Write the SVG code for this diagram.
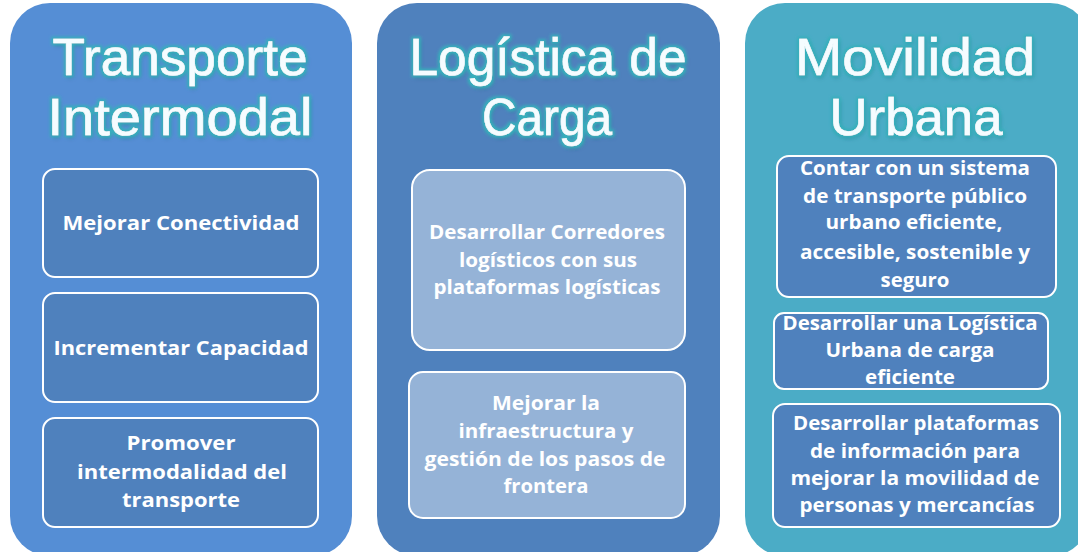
<svg xmlns="http://www.w3.org/2000/svg" width="1078" height="552" viewBox="0 0 1078 552">
<defs>
<filter id="glow" x="-10%" y="-30%" width="120%" height="160%">
<feOffset in="SourceAlpha" dx="1" dy="2" result="off"/>
<feGaussianBlur in="off" stdDeviation="2" result="offb"/>
<feFlood flood-color="#1F3A5C" flood-opacity="0.55"/>
<feComposite in2="offb" operator="in" result="shadow"/>
<feMorphology in="SourceAlpha" operator="dilate" radius="1.8" result="dil"/>
<feGaussianBlur in="dil" stdDeviation="1.4" result="dilb"/>
<feFlood flood-color="#36B0BC" flood-opacity="1"/>
<feComposite in2="dilb" operator="in" result="glowc"/>
<feMerge><feMergeNode in="shadow"/><feMergeNode in="glowc"/><feMergeNode in="SourceGraphic"/></feMerge>
</filter>
</defs>
<style>
.title{font-family:"Liberation Sans","Open Sans",sans-serif;font-size:52px;fill:#F5FCFF;stroke:#F5FCFF;stroke-width:0.6;text-anchor:middle;filter:url(#glow)}
.item{font-family:"Open Sans","Liberation Sans",sans-serif;font-size:19px;font-weight:bold;fill:#FFFFFF;text-anchor:middle}
.box{stroke:#FFFFFF;stroke-width:2}
.b1{fill:#4F81BD}
.b2{fill:#95B3D7}
</style>
<rect width="1078" height="552" fill="#FFFFFF"/>

<g id="panel-transporte">
<rect x="10" y="3" width="342" height="553" rx="40" fill="#558ED5"/>
<text class="title" x="180" y="75" textLength="255" lengthAdjust="spacingAndGlyphs">Transporte</text>
<text class="title" x="180" y="135" textLength="265" lengthAdjust="spacingAndGlyphs">Intermodal</text>
</g>
<g id="node-mejorar-conectividad">
<rect class="box b1" x="43" y="169" width="275" height="108" rx="12"/>
<text class="item" x="181" y="230" textLength="237" lengthAdjust="spacingAndGlyphs">Mejorar Conectividad</text>
</g>
<g id="node-incrementar-capacidad">
<rect class="box b1" x="43" y="293" width="275" height="109" rx="12"/>
<text class="item" x="181" y="355" textLength="255" lengthAdjust="spacingAndGlyphs">Incrementar Capacidad</text>
</g>
<g id="node-promover-intermodalidad">
<rect class="box b1" x="43" y="418" width="275" height="109" rx="12"/>
<text class="item" x="181" y="450" textLength="109" lengthAdjust="spacingAndGlyphs">Promover</text>
<text class="item" x="182" y="479" textLength="210" lengthAdjust="spacingAndGlyphs">intermodalidad del</text>
<text class="item" x="181" y="507" textLength="118" lengthAdjust="spacingAndGlyphs">transporte</text>
</g>

<g id="panel-logistica">
<rect x="377" y="3" width="343" height="553" rx="40" fill="#4F81BD"/>
<text class="title" x="548" y="75" textLength="277" lengthAdjust="spacingAndGlyphs">Logística de</text>
<text class="title" x="547" y="135" textLength="130" lengthAdjust="spacingAndGlyphs">Carga</text>
</g>
<g id="node-corredores">
<rect class="box b2" x="412" y="170" width="273" height="180" rx="18"/>
<text class="item" x="547" y="239" textLength="236" lengthAdjust="spacingAndGlyphs">Desarrollar Corredores</text>
<text class="item" x="548" y="267" textLength="178" lengthAdjust="spacingAndGlyphs">logísticos con sus</text>
<text class="item" x="547" y="294" textLength="227" lengthAdjust="spacingAndGlyphs">plataformas logísticas</text>
</g>
<g id="node-pasos-frontera">
<rect class="box b2" x="409" y="372" width="276" height="146" rx="14"/>
<text class="item" x="546" y="410" textLength="108" lengthAdjust="spacingAndGlyphs">Mejorar la</text>
<text class="item" x="546" y="438" textLength="175" lengthAdjust="spacingAndGlyphs">infraestructura y</text>
<text class="item" x="545" y="466" textLength="241" lengthAdjust="spacingAndGlyphs">gestión de los pasos de</text>
<text class="item" x="546" y="493" textLength="85" lengthAdjust="spacingAndGlyphs">frontera</text>
</g>

<g id="panel-movilidad">
<rect x="745" y="3" width="345" height="553" rx="40" fill="#4BACC6"/>
<text class="title" x="915" y="75" textLength="240" lengthAdjust="spacingAndGlyphs">Movilidad</text>
<text class="title" x="916" y="135" textLength="173" lengthAdjust="spacingAndGlyphs">Urbana</text>
</g>
<g id="node-transporte-publico">
<rect class="box b1" x="777" y="156" width="279" height="141" rx="12"/>
<text class="item" x="915" y="175" textLength="230" lengthAdjust="spacingAndGlyphs">Contar con un sistema</text>
<text class="item" x="915" y="203" textLength="224" lengthAdjust="spacingAndGlyphs">de transporte público</text>
<text class="item" x="914" y="229" textLength="177" lengthAdjust="spacingAndGlyphs">urbano eficiente,</text>
<text class="item" x="915" y="259" textLength="230" lengthAdjust="spacingAndGlyphs">accesible, sostenible y</text>
<text class="item" x="915" y="287" textLength="69" lengthAdjust="spacingAndGlyphs">seguro</text>
</g>
<g id="node-logistica-urbana">
<rect class="box b1" x="774" y="313" width="274" height="76" rx="10"/>
<text class="item" x="910" y="330" textLength="255" lengthAdjust="spacingAndGlyphs">Desarrollar una Logística</text>
<text class="item" x="910" y="357" textLength="169" lengthAdjust="spacingAndGlyphs">Urbana de carga</text>
<text class="item" x="910" y="384" textLength="90" lengthAdjust="spacingAndGlyphs">eficiente</text>
</g>
<g id="node-plataformas-informacion">
<rect class="box b1" x="773" y="404" width="287" height="123" rx="12"/>
<text class="item" x="916" y="430" textLength="246" lengthAdjust="spacingAndGlyphs">Desarrollar plataformas</text>
<text class="item" x="915" y="458" textLength="210" lengthAdjust="spacingAndGlyphs">de información para</text>
<text class="item" x="915" y="485" textLength="249" lengthAdjust="spacingAndGlyphs">mejorar la movilidad de</text>
<text class="item" x="917" y="512" textLength="235" lengthAdjust="spacingAndGlyphs">personas y mercancías</text>
</g>

<g id="connectors"></g>
</svg>
